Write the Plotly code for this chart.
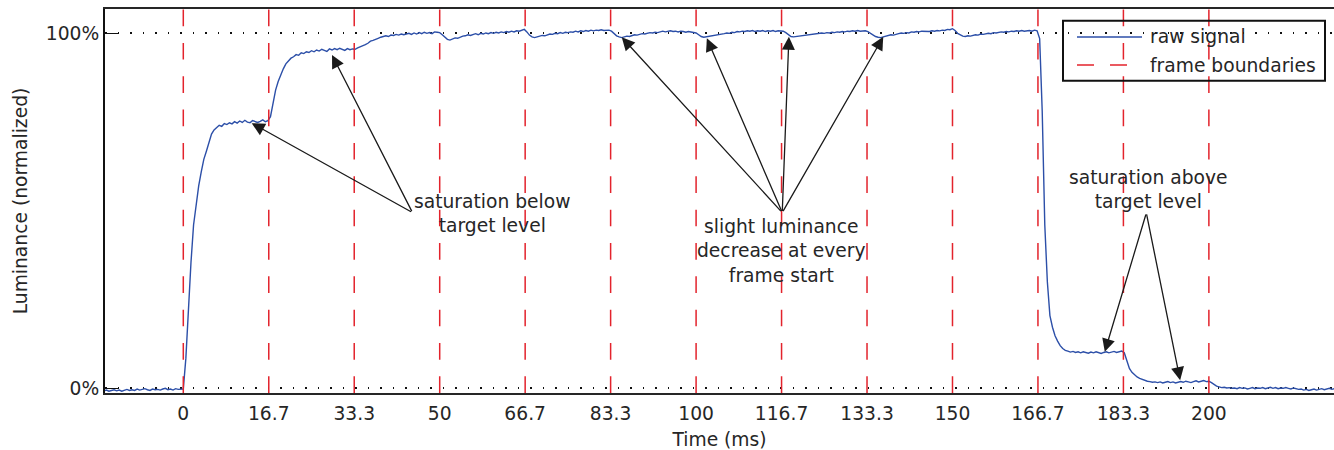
import numpy as np
import plotly.graph_objects as go

# ---------------- data ----------------
T_START = -20.0   # ms, first sample
T_STEP = 0.5      # ms, sample spacing

luminance = [
    # -20 .. -15.5
    -0.007, -0.004, -0.008, -0.005, -0.009, -0.006, -0.004, -0.008, -0.006, -0.007,
    # -15 .. -10.5
    -0.005, -0.008, -0.006, -0.004, -0.007, -0.005, -0.008, -0.006, -0.003, -0.006,
    # -10 .. -5.5
    -0.004, -0.006, -0.002, -0.005, -0.003, -0.001, -0.004, -0.006, -0.002, -0.004,
    # -5 .. -0.5
    -0.003, -0.005, -0.002, 0.000, -0.004, -0.002, -0.005, -0.001, -0.003, -0.002,
    # 0 .. 4.5
    -0.002, 0.085, 0.225, 0.355, 0.460, 0.520, 0.570, 0.610, 0.645, 0.668,
    # 5 .. 9.5
    0.690, 0.716, 0.728, 0.735, 0.741, 0.738, 0.746, 0.743, 0.748, 0.745,
    # 10 .. 14.5
    0.751, 0.747, 0.753, 0.749, 0.755, 0.750, 0.748, 0.754, 0.751, 0.749,
    # 15 .. 19.5
    0.752, 0.756, 0.751, 0.754, 0.765, 0.800, 0.840, 0.864, 0.885, 0.900,
    # 20 .. 24.5
    0.914, 0.923, 0.930, 0.934, 0.940, 0.938, 0.945, 0.943, 0.948, 0.946,
    # 25 .. 29.5
    0.951, 0.948, 0.953, 0.950, 0.955, 0.952, 0.949, 0.956, 0.953, 0.957,
    # 30 .. 34.5
    0.954, 0.958, 0.955, 0.952, 0.957, 0.954, 0.956, 0.955, 0.959, 0.962,
    # 35 .. 39.5
    0.963, 0.968, 0.972, 0.978, 0.980, 0.984, 0.986, 0.989, 0.990, 0.993,
    # 40 .. 44.5
    0.991, 0.995, 0.994, 0.997, 0.995, 0.998, 0.996, 0.999, 1.000, 0.997,
    # 45 .. 49.5
    1.001, 0.998, 1.002, 0.999, 1.003, 1.000, 1.002, 0.999, 1.004, 1.003,
    # 50 .. 54.5
    1.002, 0.996, 0.988, 0.983, 0.981, 0.984, 0.987, 0.986, 0.990, 0.992,
    # 55 .. 59.5
    0.993, 0.996, 0.994, 0.997, 0.999, 0.996, 1.000, 0.998, 1.001, 0.999,
    # 60 .. 64.5
    1.002, 1.000, 1.003, 1.001, 1.004, 1.002, 1.005, 1.003, 1.006, 1.004,
    # 65 .. 69.5
    1.007, 1.006, 1.009, 1.011, 1.004, 0.995, 0.990, 0.988, 0.990, 0.992,
    # 70 .. 74.5
    0.994, 0.993, 0.996, 0.998, 0.997, 1.000, 0.999, 1.002, 1.000, 1.003,
    # 75 .. 79.5
    1.002, 1.004, 1.003, 1.006, 1.004, 1.007, 1.005, 1.008, 1.006, 1.009,
    # 80 .. 84.5
    1.007, 1.009, 1.008, 1.010, 1.008, 1.009, 1.009, 1.006, 0.999, 0.993,
    # 85 .. 89.5
    0.990, 0.988, 0.990, 0.992, 0.991, 0.994, 0.996, 0.995, 0.997, 0.999,
    # 90 .. 94.5
    0.998, 1.000, 1.002, 1.001, 1.003, 1.002, 1.004, 1.006, 1.004, 1.006,
    # 95 .. 99.5
    1.007, 1.005, 1.006, 1.004, 1.006, 1.005, 1.003, 1.005, 1.004, 1.002,
    # 100 .. 104.5
    1.001, 0.996, 0.991, 0.989, 0.990, 0.992, 0.994, 0.993, 0.996, 0.997,
    # 105 .. 109.5
    0.996, 0.999, 1.001, 1.000, 1.003, 1.002, 1.005, 1.004, 1.006, 1.005,
    # 110 .. 114.5
    1.007, 1.006, 1.008, 1.005, 1.007, 1.006, 1.008, 1.005, 1.007, 1.006,
    # 115 .. 119.5
    1.008, 1.005, 1.007, 1.006, 1.006, 1.002, 0.996, 0.991, 0.990, 0.991,
    # 120 .. 124.5
    0.993, 0.992, 0.995, 0.996, 0.995, 0.998, 0.997, 1.000, 0.999, 1.001,
    # 125 .. 129.5
    1.000, 1.002, 1.001, 1.003, 1.002, 1.004, 1.003, 1.005, 1.004, 1.006,
    # 130 .. 134.5
    1.005, 1.007, 1.006, 1.008, 1.006, 1.007, 1.007, 1.005, 1.000, 0.995,
    # 135 .. 139.5
    0.991, 0.989, 0.988, 0.990, 0.992, 0.994, 0.996, 0.995, 0.998, 0.999,
    # 140 .. 144.5
    1.001, 1.000, 1.002, 1.001, 1.004, 1.003, 1.005, 1.004, 1.006, 1.005,
    # 145 .. 149.5
    1.006, 1.005, 1.007, 1.006, 1.008, 1.007, 1.009, 1.008, 1.011, 1.010,
    # 150 .. 154.5
    1.013, 1.008, 1.000, 0.995, 0.992, 0.991, 0.993, 0.992, 0.995, 0.996,
    # 155 .. 159.5
    0.995, 0.998, 0.997, 0.999, 1.000, 0.999, 1.002, 1.001, 1.003, 1.004,
    # 160 .. 164.5
    1.003, 1.005, 1.004, 1.006, 1.005, 1.007, 1.006, 1.008, 1.006, 1.007,
    # 165 .. 169.5
    1.008, 1.006, 1.009, 1.007, 0.985, 0.780, 0.460, 0.300, 0.205, 0.172,
    # 170 .. 174.5
    0.148, 0.133, 0.120, 0.112, 0.107, 0.105, 0.102, 0.104, 0.101, 0.103,
    # 175 .. 179.5
    0.100, 0.103, 0.101, 0.099, 0.102, 0.100, 0.103, 0.101, 0.098, 0.101,
    # 180 .. 184.5
    0.103, 0.100, 0.102, 0.104, 0.101, 0.103, 0.105, 0.100, 0.076, 0.056,
    # 185 .. 189.5
    0.045, 0.037, 0.032, 0.028, 0.025, 0.022, 0.020, 0.019, 0.017, 0.018,
    # 190 .. 194.5
    0.016, 0.018, 0.015, 0.017, 0.019, 0.016, 0.018, 0.015, 0.017, 0.019,
    # 195 .. 199.5
    0.017, 0.020, 0.018, 0.016, 0.019, 0.021, 0.018, 0.020, 0.022, 0.019,
    # 200 .. 204.5
    0.020, 0.016, 0.010, 0.006, 0.004, 0.002, 0.003, 0.001, 0.002, 0.000,
    # 205 .. 209.5
    0.001, -0.001, 0.002, 0.000, 0.001, -0.002, 0.000, 0.002, -0.001, 0.001,
    # 210 .. 214.5
    0.000, 0.002, -0.001, 0.001, 0.003, 0.000, 0.002, -0.001, 0.001, 0.000,
    # 215 .. 219.5
    0.002, 0.000, -0.002, 0.001, -0.001, -0.003, -0.002, -0.005, -0.003, -0.006,
    # 220 .. 224.5
    -0.004, -0.002, -0.005, -0.003, -0.001, -0.004, -0.002, 0.000, -0.003, -0.001,
    # 225 .. 229.5
    -0.002, 0.000, -0.003, -0.001, -0.002, 0.000, -0.002, -0.001, -0.003, -0.001,
]

frame_boundaries_ms = [0, 16.667, 33.333, 50, 66.667, 83.333, 100,
                       116.667, 133.333, 150, 166.667, 183.333, 200]
frame_tick_labels = ["0", "16.7", "33.3", "50", "66.7", "83.3", "100",
                     "116.7", "133.3", "150", "166.7", "183.3", "200"]

y_tick_values = [0, 1]
y_tick_labels = ["0%", "100%"]

series_names = ["raw signal", "frame boundaries"]

# annotation groups: text position, arrow tail, arrow tips (data units)
note_texts = ["saturation below<br>target level",
              "slight luminance<br>decrease at every<br>frame start",
              "saturation above<br>target level"]
note_text_xy = [(60.2, 0.492), (116.75, 0.387), (188.3, 0.561)]
note_tail_xy = [(44.7, 0.495), (116.8, 0.495), (187.8, 0.494)]
note_tips_xy = [
    [(13.34, 0.747), (29.0, 0.939)],
    [(85.5, 0.989), (102.1, 0.986), (118.1, 0.990), (136.5, 0.990)],
    [(179.7, 0.103), (194.4, 0.023)],
]

X_RANGE = [-15.27, 224.4]
Y_RANGE = [-0.0132, 1.0685]

# ---------------- figure ----------------
FONT = "DejaVu Sans"
FS = 18.7
TXT = "#262626"
BLUE = "#2c4fa8"
RED = "#e3232c"

W, H = 1334, 450
ML, MR, MT, MB = 105, 0, 9, 57
PW, PH = W - ML - MR, H - MT - MB


def px_to_paper(px, py):
    return (px - ML) / PW, (H - MB - py) / PH


time_ms = T_START + T_STEP * np.arange(len(luminance))

fig = go.Figure()
fig.add_trace(go.Scatter(
    x=time_ms, y=luminance, mode="lines", name=series_names[0],
    line=dict(color=BLUE, width=1.4), hoverinfo="skip", showlegend=False))

fx, fy = [], []
for fb in frame_boundaries_ms:
    fx += [fb, fb, None]
    fy += [Y_RANGE[0], Y_RANGE[1], None]
RED_DASH = "16.67px,16.67px"
fig.add_trace(go.Scatter(
    x=fx, y=fy, mode="lines", name=series_names[1],
    line=dict(color=RED, width=1.5, dash=RED_DASH),
    hoverinfo="skip", showlegend=False))

annotations = []
for txt, (tx, ty), (ax_, ay_), tips in zip(note_texts, note_text_xy,
                                           note_tail_xy, note_tips_xy):
    annotations.append(dict(
        x=tx, y=ty, xref="x", yref="y", text=txt, showarrow=False,
        xanchor="center", yanchor="middle", align="center",
        font=dict(family=FONT, size=FS, color=TXT)))
    for (px, py) in tips:
        annotations.append(dict(
            x=px, y=py, xref="x", yref="y", ax=ax_, ay=ay_,
            axref="x", ayref="y", text="", showarrow=True,
            arrowhead=2, arrowsize=2.0, arrowwidth=1.3,
            arrowcolor="#1a1a1a", standoff=0, startstandoff=0))

# ---- hand-drawn legend box (transparent, like the reference) ----
shapes = []
lx0, ly0 = px_to_paper(1063, 20.7)
lx1, ly1 = px_to_paper(1325, 80.7)
shapes.append(dict(type="rect", xref="paper", yref="paper",
                   x0=lx0, x1=lx1, y0=ly1, y1=ly0,
                   line=dict(color="#111111", width=2),
                   fillcolor="rgba(0,0,0,0)", layer="above"))
legend_rows_py = [37, 65]
legend_styles = [dict(color=BLUE, width=1.4),
                 dict(color=RED, width=1.5, dash="17px,16px")]
for name, rpy, st in zip(series_names, legend_rows_py, legend_styles):
    sx0, sy = px_to_paper(1077, rpy)
    sx1, _ = px_to_paper(1142, rpy)
    shapes.append(dict(type="line", xref="paper", yref="paper",
                       x0=sx0, x1=sx1, y0=sy, y1=sy, line=st, layer="above"))
    tx, _ = px_to_paper(1148, rpy)
    annotations.append(dict(
        x=tx, y=sy, xref="paper", yref="paper", text=name, showarrow=False,
        xanchor="left", yanchor="middle", align="left",
        font=dict(family=FONT, size=FS, color=TXT)))

fig.update_layout(
    width=W, height=H,
    margin=dict(l=ML, r=MR, t=MT, b=MB, autoexpand=False),
    paper_bgcolor="white", plot_bgcolor="white",
    font=dict(family=FONT, size=FS, color=TXT),
    showlegend=False,
    annotations=annotations,
    shapes=shapes,
    xaxis=dict(
        range=X_RANGE, tickmode="array", tickvals=frame_boundaries_ms,
        ticktext=frame_tick_labels, ticks="", showgrid=False,
        zeroline=False, showline=True, linecolor="#262626", linewidth=2,
        mirror=True, automargin=False, ticklabelstandoff=3,
        title=dict(text="Time (ms)", font=dict(family=FONT, size=FS, color=TXT),
                   standoff=10),
        tickfont=dict(family=FONT, size=FS, color=TXT)),
    yaxis=dict(
        range=Y_RANGE, tickmode="array", tickvals=y_tick_values,
        ticktext=y_tick_labels, ticks="inside", ticklen=13, tickwidth=1,
        tickcolor="#111111", showgrid=True, gridcolor="#111111",
        gridwidth=1.5, griddash="1.5px,11px", zeroline=False,
        showline=True, linecolor="#111111", linewidth=2, automargin=False,
        title=dict(text="Luminance (normalized)",
                   font=dict(family=FONT, size=FS, color=TXT), standoff=13),
        tickfont=dict(family=FONT, size=FS, color=TXT)),
)

fig.write_html("out.html")
